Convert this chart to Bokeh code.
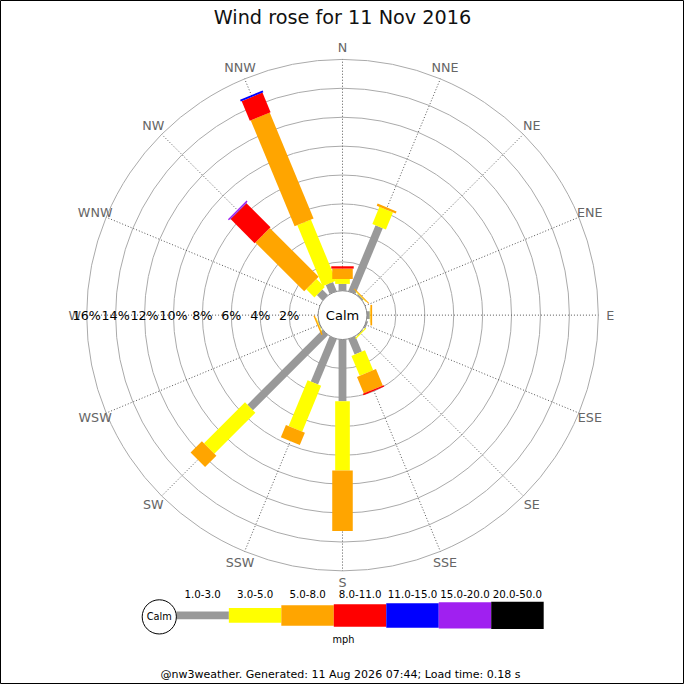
import math
from bokeh.plotting import figure
from bokeh.models import Range1d
from bokeh.core.properties import value
from bokeh.embed import file_html
from bokeh.resources import INLINE

# ---------------- data ----------------
directions = ["N", "NNE", "NE", "ENE", "E", "ESE", "SE", "SSE",
              "S", "SSW", "SW", "WSW", "W", "WNW", "NW", "NNW"]
speed_bands = ["1.0-3.0", "3.0-5.0", "5.0-8.0", "8.0-11.0",
               "11.0-15.0", "15.0-20.0", "20.0-50.0"]
band_colors = ["#999999", "#ffff00", "#ffa500", "#ff0000",
               "#0000ff", "#a020f0", "#000000"]
# percentage of time per direction for each speed band
pct_1_3   = [0.47, 4.93, 0.10, 0.00, 0.20, 0.12, 0.05, 1.15, 4.26, 3.39, 7.34, 0.05, 0.00, 0.00, 0.55, 0.68]
pct_3_5   = [0.34, 1.28, 0.04, 0.00, 0.04, 0.00, 0.08, 1.49, 4.80, 3.43, 4.01, 0.04, 0.00, 0.00, 0.80, 4.57]
pct_5_8   = [0.72, 0.16, 0.06, 0.00, 0.12, 0.00, 0.00, 1.24, 4.17, 0.92, 1.11, 0.10, 0.00, 0.00, 4.78, 7.93]
pct_8_11  = [0.16, 0.00, 0.00, 0.00, 0.00, 0.00, 0.00, 0.10, 0.00, 0.00, 0.00, 0.00, 0.00, 0.00, 2.35, 1.47]
pct_11_15 = [0.00, 0.00, 0.00, 0.00, 0.00, 0.00, 0.00, 0.00, 0.00, 0.00, 0.00, 0.00, 0.00, 0.00, 0.03, 0.13]
pct_15_20 = [0.00, 0.00, 0.00, 0.00, 0.00, 0.00, 0.00, 0.00, 0.00, 0.00, 0.00, 0.00, 0.00, 0.00, 0.09, 0.00]
pct_20_50 = [0.00] * 16
band_values = [pct_1_3, pct_3_5, pct_5_8, pct_8_11, pct_11_15, pct_15_20, pct_20_50]
ring_ticks = [2, 4, 6, 8, 10, 12, 14, 16]
title_text = "Wind rose for 11 Nov 2016"
footer_text = "@nw3weather. Generated: 11 Aug 2026 07:44; Load time: 0.18 s"

# ---------------- layout / style ----------------
W = H = 684
S = W / 700.0          # screen px per layout unit
CALM_R = 25.0          # radius of the calm circle
PX_PER_PCT = 14.8      # radial scale (units per percent)
band_widths = [8, 15, 21, 23, 25, 27, 28]
FONT = value("DejaVu Sans")


def fs(px):
    return f"{px * S:.2f}px"


def rad(p):
    return CALM_R + p * PX_PER_PCT


p = figure(width=W, height=H, output_backend="svg", toolbar_location=None,
           x_range=Range1d(-350, 350), y_range=Range1d(322 - 700, 322),
           min_border=0)
p.axis.visible = False
p.grid.visible = False
p.outline_line_color = "black"
p.background_fill_color = "white"
p.border_fill_color = "white"

# grid circles
rmax = rad(ring_ticks[-1])
p.circle(x=[0] * len(ring_ticks), y=[0] * len(ring_ticks),
         radius=[rad(t) for t in ring_ticks],
         fill_color=None, line_color="#aaaaaa", line_width=1)

# radial lines
angs = [i * 2 * math.pi / len(directions) for i in range(len(directions))]
p.segment(x0=[CALM_R * math.sin(a) for a in angs], y0=[CALM_R * math.cos(a) for a in angs],
          x1=[rmax * math.sin(a) for a in angs], y1=[rmax * math.cos(a) for a in angs],
          line_color="#555555", line_dash="1 2", line_width=1)

# bars
cum = [0.0] * len(directions)
for bi, vals in enumerate(band_values):
    xs, ys, hs, an = [], [], [], []
    for di, v in enumerate(vals):
        if v <= 0:
            continue
        r1 = rad(cum[di])
        r2 = rad(cum[di] + v)
        cum[di] += v
        rm = (r1 + r2) / 2
        a = angs[di]
        xs.append(rm * math.sin(a))
        ys.append(rm * math.cos(a))
        hs.append(r2 - r1)
        an.append(-a)
    if xs:
        p.rect(x=xs, y=ys, width=band_widths[bi], height=hs, angle=an,
               fill_color=band_colors[bi], line_color=None)

# calm circle
p.circle(x=[0], y=[0], radius=[CALM_R], fill_color="white", line_color="#888888", line_width=1)
p.text(x=[0], y=[0], text=["Calm"], text_align="center", text_baseline="middle",
       text_font=FONT, text_font_size=fs(13.3), text_color="black")

# direction labels
LAB_R = 274
p.text(x=[LAB_R * math.sin(a) for a in angs], y=[LAB_R * math.cos(a) for a in angs],
       text=directions, text_align="center", text_baseline="middle",
       text_font=FONT, text_font_size=fs(13), text_color="#666666")

# ring labels along W axis
p.text(x=[-rad(t) for t in ring_ticks], y=[0] * len(ring_ticks),
       text=[f"{t}%" for t in ring_ticks], text_align="center", text_baseline="middle",
       text_font=FONT, text_font_size=fs(13), text_color="black")

# title
p.text(x=[0], y=[305], text=[title_text], text_align="center", text_baseline="middle",
       text_font=FONT, text_font_size=fs(19.7), text_color="#111111")

# legend
LEG_X0 = -170.0
LEG_W = 53.7
LEG_Y = -307.3
lx = [LEG_X0 + LEG_W * (i + 0.5) for i in range(len(speed_bands))]
p.rect(x=lx, y=[LEG_Y] * len(lx), width=LEG_W, height=band_widths,
       fill_color=band_colors, line_color=None)
p.text(x=lx, y=[LEG_Y + 22] * len(lx), text=speed_bands, text_align="center",
       text_baseline="middle", text_font=FONT, text_font_size=fs(10.5), text_color="black")
p.circle(x=[LEG_X0 - 17.5], y=[LEG_Y - 1.5], radius=[17.5], fill_color="white",
         line_color="black", line_width=1)
p.text(x=[LEG_X0 - 17.5], y=[LEG_Y - 1.5], text=["Calm"], text_align="center",
       text_baseline="middle", text_font=FONT, text_font_size=fs(10), text_color="black")
p.text(x=[1], y=[LEG_Y - 25], text=["mph"], text_align="center", text_baseline="middle",
       text_font=FONT, text_font_size=fs(10), text_color="black")

# footer
p.text(x=[-2], y=[-368], text=[footer_text], text_align="center", text_baseline="middle",
       text_font=FONT, text_font_size=fs(11.3), text_color="black")

open("out.html", "w").write(file_html(p, INLINE))
